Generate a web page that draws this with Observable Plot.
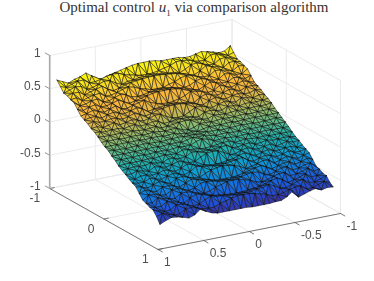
<!DOCTYPE html>
<html>
<head>
<meta charset="utf-8">
<script src="https://cdn.jsdelivr.net/npm/d3@7"></script>
<script src="https://cdn.jsdelivr.net/npm/@observablehq/plot@0.6"></script>
<style>
html,body{margin:0;padding:0;background:#fff;overflow:hidden}
#title{height:16px;line-height:15px;text-align:center;font-family:"Liberation Serif",serif;font-size:15px;color:#333;white-space:nowrap;width:374px;padding-left:14px;box-sizing:border-box}
#title sub{font-size:9px;line-height:0}
#chart svg{display:block;filter:blur(.45px)}
</style>
</head>
<body>
<div id="title">Optimal control <i>u</i><sub>1</sub> via comparison algorithm</div>
<div id="chart"></div>
<script>
// surface sample positions
const xGrid = [.95,.887,.823,.76,.697,.633,.57,.507,.443,.38,.317,.253,.19,.127,.063,0,-.063,-.127,-.19,-.253,-.317,-.38,-.443,-.507,-.57,-.633,-.697,-.76,-.823,-.887,-.95];
const yGrid = [-.95,-.887,-.823,-.76,-.697,-.633,-.57,-.507,-.443,-.38,-.317,-.253,-.19,-.127,-.063,0,.063,.127,.19,.253,.317,.38,.443,.507,.57,.633,.697,.76,.823,.887,.95];
// u1 values in hundredths, one row per yGrid entry
const u1Rows = [
[64,60,56,60,62,66,60,54,52,56,58,60,62,64,65,65,65,64,62,62,62,62,60,60,62,64,62,60,57,58,64],
[57,54,57,60,60,54,54,56,59,60,60,56,54,52,50,50,50,52,54,56,60,60,59,56,54,54,60,60,57,54,57],
[50,53,56,55,49,50,53,56,55,50,46,49,49,51,51,52,51,51,49,49,46,50,55,56,53,50,49,55,56,53,50],
[49,51,51,45,48,50,53,47,43,45,48,50,51,52,53,53,53,52,51,50,48,45,43,47,53,50,48,45,51,51,49],
[46,47,41,44,46,47,41,41,43,46,48,46,42,40,37,37,37,40,42,46,48,46,43,41,41,47,46,44,41,47,46],
[44,38,39,42,43,37,37,40,43,41,36,35,36,38,38,39,38,38,36,35,36,41,43,40,37,37,43,42,39,38,44],
[37,34,37,39,34,34,36,39,35,31,33,35,37,39,40,40,40,39,37,35,33,31,35,39,36,34,34,39,37,34,37],
[30,32,35,32,29,32,35,29,28,31,33,35,30,27,25,24,25,27,30,35,33,31,28,29,35,32,29,32,35,32,30],
[27,29,29,25,28,30,27,25,27,30,27,21,23,24,25,26,25,24,23,21,27,30,27,25,27,30,28,25,29,29,27],
[24,26,23,23,25,24,21,23,26,23,19,21,24,25,27,27,27,25,24,21,19,23,26,23,21,24,25,23,23,26,24],
[20,21,18,20,22,17,19,21,19,16,18,21,21,16,12,11,12,16,21,21,18,16,19,21,19,17,22,20,18,21,20],
[17,16,15,16,16,14,16,17,13,14,16,15,10,11,12,12,12,11,10,15,16,14,13,17,16,14,16,16,15,16,17],
[13,12,12,12,12,11,12,11,10,11,12,8,9,10,11,12,11,10,9,8,12,11,10,11,12,11,12,12,12,12,13],
[8,8,8,8,7,8,8,7,7,8,7,6,7,7,3,1,3,7,7,6,7,8,7,7,8,8,7,8,8,8,8],
[4,4,4,4,4,4,4,3,4,4,3,3,4,2,0,1,0,2,4,3,3,4,4,3,4,4,4,4,4,4,4],
[1,0,0,-1,0,0,1,0,0,-1,0,0,1,0,0,0,0,1,0,0,-1,0,0,1,0,0,-1,0,0,1,0],
[-4,-4,-4,-4,-4,-4,-4,-3,-4,-4,-3,-3,-4,-2,0,-1,0,-2,-4,-3,-3,-4,-4,-3,-4,-4,-4,-4,-4,-4,-4],
[-8,-8,-8,-8,-7,-8,-8,-7,-7,-8,-7,-6,-7,-7,-3,-1,-3,-7,-7,-6,-7,-8,-7,-7,-8,-8,-7,-8,-8,-8,-8],
[-13,-12,-12,-12,-12,-11,-12,-11,-10,-11,-12,-8,-9,-10,-11,-12,-11,-10,-9,-8,-12,-11,-10,-11,-12,-11,-12,-12,-12,-12,-13],
[-17,-16,-15,-16,-16,-14,-16,-17,-13,-14,-16,-15,-10,-11,-12,-12,-12,-11,-10,-15,-16,-14,-13,-17,-16,-14,-16,-16,-15,-16,-17],
[-20,-21,-18,-20,-22,-17,-19,-21,-19,-16,-18,-21,-21,-16,-12,-11,-12,-16,-21,-21,-18,-16,-19,-21,-19,-17,-22,-20,-18,-21,-20],
[-24,-26,-23,-23,-25,-24,-21,-23,-26,-23,-19,-21,-24,-25,-27,-27,-27,-25,-24,-21,-19,-23,-26,-23,-21,-24,-25,-23,-23,-26,-24],
[-27,-29,-29,-25,-28,-30,-27,-25,-27,-30,-27,-21,-23,-24,-25,-26,-25,-24,-23,-21,-27,-30,-27,-25,-27,-30,-28,-25,-29,-29,-27],
[-30,-32,-35,-32,-29,-32,-35,-29,-28,-31,-33,-35,-30,-27,-25,-24,-25,-27,-30,-35,-33,-31,-28,-29,-35,-32,-29,-32,-35,-32,-30],
[-37,-34,-37,-39,-34,-34,-36,-39,-35,-31,-33,-35,-37,-39,-40,-40,-40,-39,-37,-35,-33,-31,-35,-39,-36,-34,-34,-39,-37,-34,-37],
[-44,-38,-39,-42,-43,-37,-37,-40,-43,-41,-36,-35,-36,-38,-38,-39,-38,-38,-36,-35,-36,-41,-43,-40,-37,-37,-43,-42,-39,-38,-44],
[-46,-47,-41,-44,-46,-47,-41,-41,-43,-46,-48,-46,-42,-40,-37,-37,-37,-40,-42,-46,-48,-46,-43,-41,-41,-47,-46,-44,-41,-47,-46],
[-49,-51,-51,-45,-48,-50,-53,-47,-43,-45,-48,-50,-51,-52,-53,-53,-53,-52,-51,-50,-48,-45,-43,-47,-53,-50,-48,-45,-51,-51,-49],
[-50,-53,-56,-55,-49,-50,-53,-56,-55,-50,-46,-49,-49,-51,-51,-52,-51,-51,-49,-49,-46,-50,-55,-56,-53,-50,-49,-55,-56,-53,-50],
[-57,-54,-57,-60,-60,-54,-54,-56,-59,-60,-60,-56,-54,-52,-50,-50,-50,-52,-54,-56,-60,-60,-59,-56,-54,-54,-60,-60,-57,-54,-57],
[-66,-62,-59,-60,-62,-65,-62,-55,-60,-64,-66,-66,-66,-66,-66,-66,-67,-67,-67,-67,-66,-66,-62,-55,-66,-63,-60,-58,-62,-60,-61]
];
const xTicks = [1,.5,0,-.5,-1];
const xTickText = ["1","0.5","0","-0.5","-1"];
const yTicks = [-1,0,1];
const yTickText = ["-1","0","1"];
const zTicks = [1,.5,0,-.5,-1];
const zTickText = ["1","0.5","0","-0.5","-1"];
const parula = ["#3a2f9a","#1f52d8","#1478de","#0f9ccf","#1fb0ad","#5cba88","#a3bb62","#e0b344","#fcb83a","#f8d52a","#f9f60e"];

// oblique view of the 3-D box
const sx = (x,y) => 194.6 - 91.2*x + 54.2*y;
const sy = (x,y,z) => 134 + 18*x + 30.5*y - 66.5*z;
const P = (x,y,z) => ({px:sx(x,y), py:sy(x,y,z)});
const seg = (id,a,b) => [{id,...P(...a)},{id,...P(...b)}];

// triangles, back to front
const verts = [];
let tri = 0;
for (let r = 0; r < yGrid.length-1; r++) {
  for (let c = xGrid.length-2; c >= 0; c--) {
    const v = (rr,cc) => [xGrid[cc], yGrid[rr], u1Rows[rr][cc]/100];
    const A=v(r,c+1), B=v(r,c), C=v(r+1,c), D=v(r+1,c+1);
    const tris = (r+c)%2 ? [[A,B,C],[A,C,D]] : [[A,B,D],[B,C,D]];
    for (const t of tris) {
      const u = (t[0][2]+t[1][2]+t[2][2])/3;
      tri++;
      for (const p of [t[0],t[1],t[2],t[0]]) verts.push({tri,u,...P(...p)});
    }
  }
}

// grid lines on floor and back walls
const grid = [];
let g = 0;
for (const x of xTicks) {
  grid.push(...seg(g++,[x,-1,-1],[x,-1,1]), ...seg(g++,[x,-1,-1],[x,1,-1]));
}
for (const y of yTicks) {
  grid.push(...seg(g++,[-1,y,-1],[-1,y,1]), ...seg(g++,[-1,y,-1],[1,y,-1]));
}
for (const z of zTicks) {
  grid.push(...seg(g++,[1,-1,z],[-1,-1,z]), ...seg(g++,[-1,-1,z],[-1,1,z]));
}

// axis rulers and tick marks
const rulers = [
  ...seg(0,[1,1,-1],[-1,1,-1]),
  ...seg(1,[1,-1,-1],[1,1,-1])
];
let k = 2;
for (const x of xTicks) rulers.push(...seg(k++,[x,1,-1],[x,1.08,-1]));
for (const y of yTicks) rulers.push(...seg(k++,[1,y,-1],[.95,y,-1]));
const zRuler = seg(0,[1,-1,-1],[1,-1,1]);
const zTickLines = [];
for (const z of zTicks) zTickLines.push(...seg(k++,[1,-1,z],[1,-1.08,z]));

const zLabels = zTicks.map((z,i)=>({t:zTickText[i],...P(1,-1,z)}));
const yLabels = yTicks.map((y,i)=>({t:yTickText[i],...P(1,y,-1)}));
const xLabels = xTicks.map((x,i)=>({t:xTickText[i],...P(x,1,-1)}));
const textStyle = {x:"px",y:"py",text:"t",fontSize:12,fill:"#505050",fontFamily:"Liberation Sans"};

const chart = Plot.plot({
  width:374, height:265, margin:0,
  x:{domain:[0,374],range:[0,374],axis:null},
  y:{domain:[16,281],range:[0,265],axis:null},
  color:{type:"linear",domain:[-.66,.62],clamp:true,interpolate:d3.piecewise(d3.interpolateRgb,parula)},
  marks:[
    Plot.line(grid,{x:"px",y:"py",z:"id",stroke:"#e9e9e9",strokeWidth:.9,curve:"linear"}),
    Plot.line(rulers,{x:"px",y:"py",z:"id",stroke:"#5a5a5a",strokeWidth:.8,curve:"linear"}),
    Plot.line(zTickLines,{x:"px",y:"py",z:"id",stroke:"#777",strokeWidth:.8,curve:"linear"}),
    Plot.line(zRuler,{x:"px",y:"py",z:"id",stroke:"#a8a8a8",strokeWidth:1.6,curve:"linear"}),
    Plot.line(verts,{x:"px",y:"py",z:"tri",fill:"u",stroke:"#111",strokeOpacity:.85,strokeWidth:.65,curve:"linear",strokeLinejoin:"round"}),
    Plot.text(zLabels,{...textStyle,textAnchor:"end",dx:-9,dy:-2.5}),
    Plot.text(yLabels,{...textStyle,textAnchor:"end",dx:-9.5,dy:10}),
    Plot.text(xLabels,{...textStyle,textAnchor:"start",dx:6,dy:12.5})
  ]
});
document.getElementById("chart").appendChild(chart);
</script>
</body>
</html>
